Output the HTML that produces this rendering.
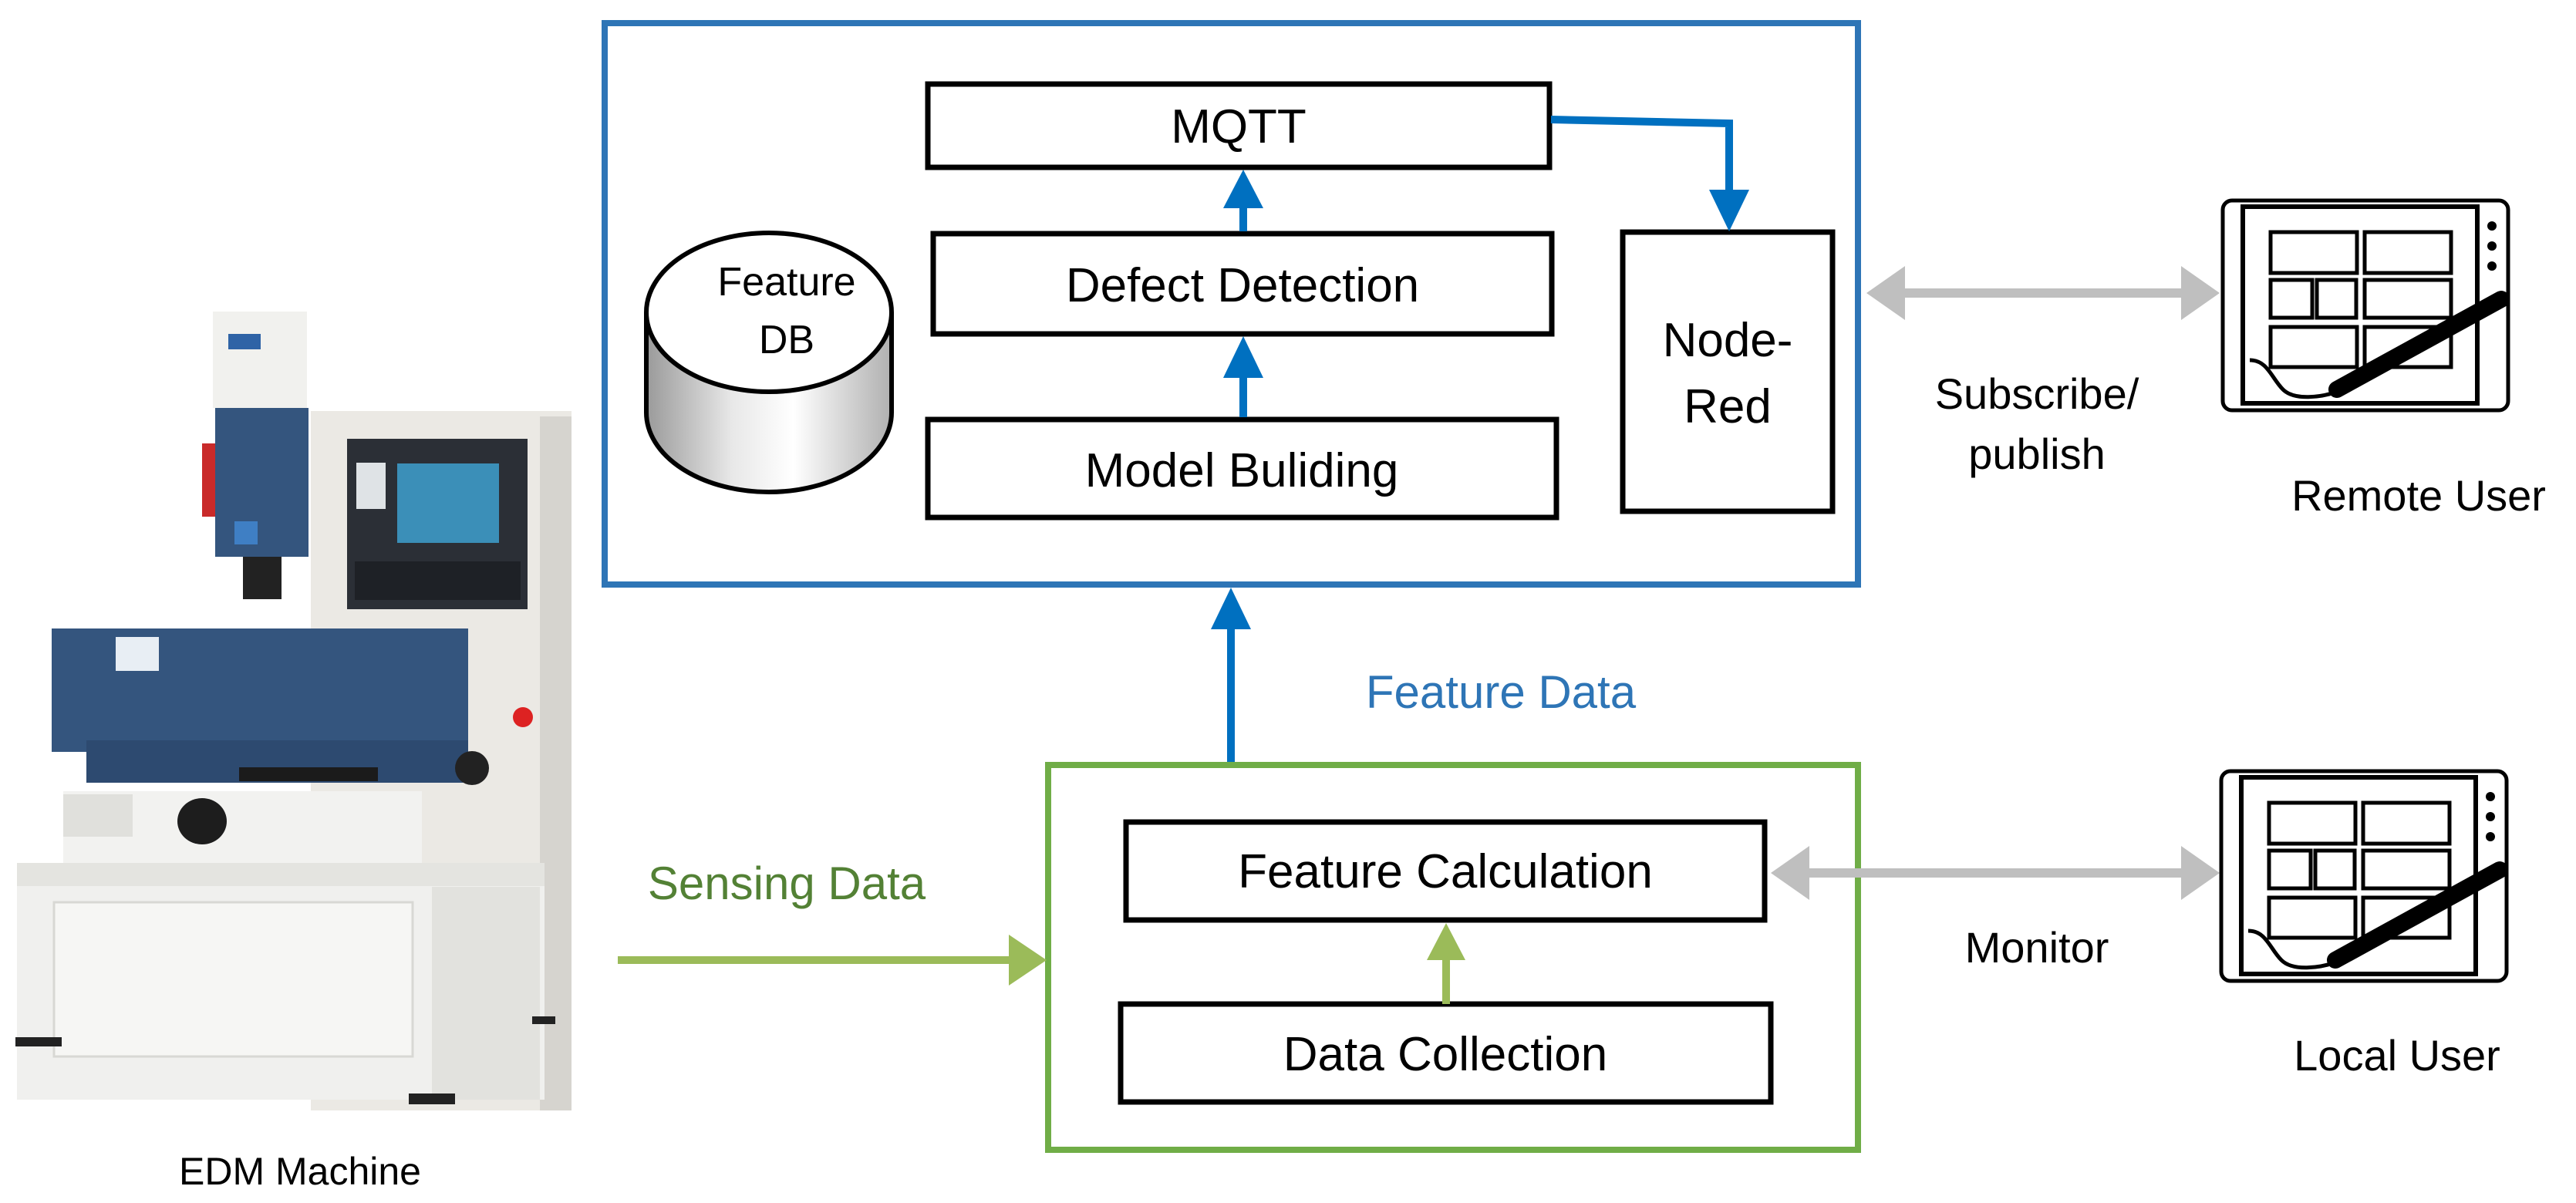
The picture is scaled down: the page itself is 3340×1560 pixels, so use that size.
<!DOCTYPE html>
<html><head><meta charset="utf-8"><style>
html,body{margin:0;padding:0;background:#fff;}
svg{display:block;}
text{font-family:"Liberation Sans","DejaVu Sans",sans-serif;}
</style></head><body>
<svg width="3340" height="1560" viewBox="0 0 3340 1560" xmlns="http://www.w3.org/2000/svg">
<defs>
<linearGradient id="cyl" x1="0" x2="1" y1="0" y2="0">
<stop offset="0" stop-color="#9a9a9a"/><stop offset="0.35" stop-color="#e8e8e8"/><stop offset="0.6" stop-color="#ffffff"/><stop offset="1" stop-color="#b0b0b0"/>
</linearGradient>
</defs>
<rect width="3340" height="1560" fill="#fff"/>

<!-- EDM machine approximation -->
<g>
<rect x="403" y="533" width="338" height="907" fill="#ebe9e4"/>
<rect x="700" y="540" width="41" height="900" fill="#d6d4cf"/>
<rect x="276" y="404" width="122" height="125" fill="#f1f1ee"/>
<rect x="296" y="433" width="42" height="20" fill="#2f63a6"/>
<rect x="262" y="575" width="20" height="95" fill="#c92a2a"/>
<rect x="279" y="529" width="121" height="193" fill="#34557e"/>
<rect x="304" y="676" width="30" height="30" fill="#3f7fc4"/>
<rect x="315" y="722" width="50" height="55" fill="#222"/>
<rect x="450" y="569" width="234" height="221" fill="#2b2f36"/>
<rect x="515" y="601" width="132" height="103" fill="#3b8fb8"/>
<rect x="462" y="600" width="38" height="60" fill="#dfe3e6"/>
<rect x="460" y="728" width="215" height="50" fill="#1e2126"/>
<rect x="67" y="815" width="540" height="160" fill="#34557e"/>
<rect x="112" y="960" width="495" height="55" fill="#2d4a70"/>
<rect x="310" y="995" width="180" height="18" fill="#1b1b1b"/>
<rect x="150" y="826" width="56" height="44" fill="#e8eef4"/>
<rect x="82" y="1026" width="465" height="128" fill="#f2f2f0"/>
<rect x="82" y="1030" width="90" height="55" fill="#e0e0dc"/>
<ellipse cx="262" cy="1065" rx="32" ry="30" fill="#1d1d1d"/>
<circle cx="612" cy="996" r="22" fill="#222"/>
<circle cx="678" cy="930" r="13" fill="#d22"/>
<rect x="22" y="1119" width="684" height="307" fill="#f0f0ee"/>
<rect x="22" y="1119" width="684" height="30" fill="#e4e4e0"/>
<rect x="70" y="1170" width="465" height="200" fill="#f6f6f4" stroke="#d8d8d4" stroke-width="3"/>
<rect x="560" y="1150" width="140" height="276" fill="#e2e2de"/>
<rect x="20" y="1345" width="60" height="12" fill="#222"/>
<rect x="530" y="1418" width="60" height="14" fill="#222"/>
<rect x="690" y="1318" width="30" height="10" fill="#222"/>
</g>
<text x="389" y="1536" font-size="50" text-anchor="middle" fill="#000">EDM Machine</text>

<!-- Blue outer box -->
<rect x="784" y="30" width="1625" height="728" fill="none" stroke="#2e75b6" stroke-width="8"/>

<!-- inner boxes -->
<g fill="#fff" stroke="#000" stroke-width="7">
<rect x="1203" y="109" width="806" height="108"/>
<rect x="1210" y="303" width="802" height="130"/>
<rect x="1203" y="544" width="815" height="127"/>
<rect x="2104" y="301" width="272" height="362"/>
<rect x="1460" y="1066" width="828" height="127"/>
<rect x="1453" y="1302" width="843" height="127"/>
</g>
<g font-size="62" text-anchor="middle" fill="#000">
<text x="1606" y="185">MQTT</text>
<text x="1611" y="391">Defect Detection</text>
<text x="1610" y="631">Model Buliding</text>
<text x="2240" y="462">Node-</text>
<text x="2240" y="548">Red</text>
<text x="1874" y="1151">Feature Calculation</text>
<text x="1874" y="1388">Data Collection</text>
</g>

<!-- Cylinder -->
<path d="M838 405 L838 535 A159 103 0 0 0 1156 535 L1156 405" fill="url(#cyl)" stroke="#000" stroke-width="6"/>
<ellipse cx="997" cy="405" rx="159" ry="103" fill="#fff" stroke="#000" stroke-width="6"/>
<text x="1020" y="383" font-size="52" text-anchor="middle">Feature</text>
<text x="1020" y="458" font-size="52" text-anchor="middle">DB</text>

<!-- blue arrows -->
<g stroke="#0070c0" stroke-width="10" fill="none">
<polyline points="2011,155 2242,160 2242,250"/>
<line x1="1612" y1="300" x2="1612" y2="265"/>
<line x1="1612" y1="541" x2="1612" y2="485"/>
<line x1="1596" y1="990" x2="1596" y2="810"/>
</g>
<g fill="#0070c0">
<polygon points="2216,246 2268,246 2242,300"/>
<polygon points="1586,270 1638,270 1612,220"/>
<polygon points="1586,490 1638,490 1612,436"/>
<polygon points="1570,816 1622,816 1596,762"/>
</g>
<text x="1946" y="918" font-size="60" text-anchor="middle" fill="#2e75b6">Feature Data</text>

<!-- green box -->
<rect x="1359" y="992" width="1050" height="499" fill="none" stroke="#70ad47" stroke-width="8"/>
<g stroke="#9bbb59" stroke-width="10" fill="none">
<line x1="801" y1="1245" x2="1320" y2="1245"/>
<line x1="1875" y1="1302" x2="1875" y2="1235"/>
</g>
<g fill="#9bbb59">
<polygon points="1308,1212 1357,1245 1308,1278"/>
<polygon points="1850,1245 1900,1245 1875,1197"/>
</g>
<text x="1020" y="1166" font-size="60" text-anchor="middle" fill="#538135">Sensing Data</text>

<!-- gray double arrows -->
<g stroke="#bfbfbf" stroke-width="12">
<line x1="2460" y1="380" x2="2840" y2="380"/>
<line x1="2335" y1="1132" x2="2840" y2="1132"/>
</g>
<g fill="#bfbfbf">
<polygon points="2420,380 2470,345 2470,415"/>
<polygon points="2878,380 2828,345 2828,415"/>
<polygon points="2296,1132 2346,1097 2346,1167"/>
<polygon points="2878,1132 2828,1097 2828,1167"/>
</g>
<g font-size="56" text-anchor="middle" fill="#000">
<text x="2641" y="530">Subscribe/</text>
<text x="2641" y="608">publish</text>
<text x="2641" y="1248">Monitor</text>
<text x="3136" y="662">Remote User</text>
<text x="3108" y="1388">Local User</text>
</g>

<!-- tablets -->
<g id="tab" fill="none" stroke="#000" stroke-width="5">
<rect x="2882" y="260" width="370" height="272" rx="12"/>
<rect x="2908" y="268" width="304" height="255" stroke-width="6"/>
<rect x="2944" y="301" width="112" height="53"/>
<rect x="3066" y="301" width="112" height="53"/>
<rect x="2944" y="363" width="54" height="49"/>
<rect x="3004" y="363" width="51" height="49"/>
<rect x="3066" y="363" width="112" height="49"/>
<rect x="2944" y="424" width="112" height="52"/>
<rect x="3066" y="424" width="112" height="52"/>
<path d="M2917 467 C2940 467 2945 490 2960 505 C2975 520 3010 515 3030 508"/>
<line x1="3030" y1="505" x2="3243" y2="388" stroke-width="22" stroke-linecap="round"/>
<circle cx="3231" cy="293" r="6" fill="#000" stroke="none"/>
<circle cx="3231" cy="319" r="6" fill="#000" stroke="none"/>
<circle cx="3231" cy="345" r="6" fill="#000" stroke="none"/>
</g>
<use href="#tab" transform="translate(-2,740)"/>
</svg>
</body></html>
